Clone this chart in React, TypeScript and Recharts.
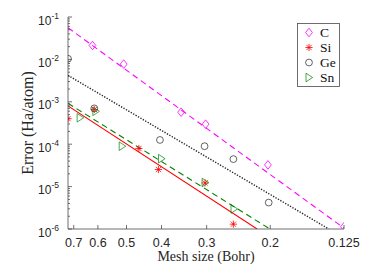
import React from 'react';
import { ComposedChart, Scatter, Line, XAxis, YAxis, Legend } from 'recharts';

// ---- axis ticks ----
const meshTicks = [0.7, 0.6, 0.5, 0.4, 0.3, 0.2, 0.125];
const meshTickLabels = ['0.7', '0.6', '0.5', '0.4', '0.3', '0.2', '0.125'];
const errorDecades = [1e-6, 1e-5, 1e-4, 1e-3, 1e-2, 1e-1];
const errorDecadeExponents = ['-6', '-5', '-4', '-3', '-2', '-1'];
const minorMultipliers = [2, 3, 4, 5, 6, 7, 8, 9];

// ---- measured points ----
const cMesh = [0.621, 0.509, 0.353, 0.302, 0.203, 0.125];
const cError = [0.0213, 0.00776, 5.7e-4, 2.97e-4, 3.25e-5, 1.13e-6];
const siMesh = [0.726, 0.614, 0.462, 0.408, 0.303, 0.253];
const siError = [4.0e-4, 6.6e-4, 7.9e-5, 2.53e-5, 1.22e-5, 1.3e-6];
const geMesh = [0.726, 0.614, 0.404, 0.304, 0.253, 0.202];
const geError = [0.01035, 7.0e-4, 1.26e-4, 8.97e-5, 4.45e-5, 4.2e-6];
const snMesh = [0.672, 0.608, 0.514, 0.4, 0.303, 0.252];
const snError = [4.2e-4, 5.96e-4, 8.97e-5, 4.55e-5, 1.25e-5, 2.97e-6];

// ---- fitted lines (end points) ----
const cFitMesh = [0.726, 0.125];
const cFitError = [0.0558, 1.05e-6];
const geFitMesh = [0.726, 0.1377];
const geFitError = [4.2e-3, 1e-6];
const snFitMesh = [0.726, 0.2005];
const snFitError = [9.2e-4, 1e-6];
const siFitMesh = [0.726, 0.2175];
const siFitError = [8.0e-4, 1e-6];

const seriesNames = ['C', 'Si', 'Ge', 'Sn'];

const toPts = (m: number[], e: number[]) => m.map((v, i) => ({ mesh: v, error: e[i] }));

const cPts = toPts(cMesh, cError);
const siPts = toPts(siMesh, siError);
const gePts = toPts(geMesh, geError);
const snPts = toPts(snMesh, snError);
const cFit = toPts(cFitMesh, cFitError);
const geFit = toPts(geFitMesh, geFitError);
const snFit = toPts(snFitMesh, snFitError);
const siFit = toPts(siFitMesh, siFitError);

const yTicks = [
  ...errorDecades,
  ...errorDecades.slice(0, -1).flatMap((d) => minorMultipliers.map((m) => m * d)),
];

const AXIS = '#4a4a4a';
const MAGENTA = '#ff00ff';
const RED = '#ff0000';
const BLACK = '#222222';
const GREEN = '#008000';
const SANS = '"Liberation Sans", Arial, sans-serif';
const SERIF = '"Liberation Serif", "Times New Roman", serif';

const isMajor = (v: number) => errorDecades.some((d) => Math.abs(v / d - 1) < 1e-6);

const Diamond = ({ cx, cy }: any) => (
  <polygon
    points={`${cx},${cy - 4.3} ${cx + 3.4},${cy} ${cx},${cy + 4.3} ${cx - 3.4},${cy}`}
    fill="none"
    stroke={MAGENTA}
    strokeWidth={0.8}
  />
);
const Star = ({ cx, cy }: any) => {
  const r = 3.6;
  const d = r * 0.72;
  return (
    <g stroke={RED} strokeWidth={0.8}>
      <line x1={cx - r} y1={cy} x2={cx + r} y2={cy} />
      <line x1={cx} y1={cy - r} x2={cx} y2={cy + r} />
      <line x1={cx - d} y1={cy - d} x2={cx + d} y2={cy + d} />
      <line x1={cx - d} y1={cy + d} x2={cx + d} y2={cy - d} />
    </g>
  );
};
const Circle = ({ cx, cy }: any) => (
  <circle cx={cx} cy={cy} r={3.4} fill="none" stroke={BLACK} strokeWidth={0.7} />
);
const TriRight = ({ cx, cy }: any) => (
  <polygon
    points={`${cx - 3},${cy - 4.3} ${cx + 3.6},${cy} ${cx - 3},${cy + 4.3}`}
    fill="none"
    stroke={GREEN}
    strokeWidth={0.7}
  />
);

const BottomTick = (props: any) => {
  const { x, y, payload } = props;
  const idx = meshTicks.findIndex((t) => Math.abs(t - payload.value) < 1e-9);
  return (
    <g>
      <line x1={x} y1={y} x2={x} y2={y - 4} stroke={AXIS} strokeWidth={0.8} />
      <text x={x} y={y + 18} textAnchor="middle" fontFamily={SANS} fontSize={12.5} fill="#262626">
        {meshTickLabels[idx]}
      </text>
    </g>
  );
};
const TopTick = (props: any) => {
  const { x, y } = props;
  return <line x1={x} y1={y} x2={x} y2={y + 4} stroke={AXIS} strokeWidth={0.8} />;
};
const LeftTick = (props: any) => {
  const { x, y, payload } = props;
  const major = isMajor(payload.value);
  const idx = errorDecades.findIndex((d) => Math.abs(payload.value / d - 1) < 1e-6);
  return (
    <g>
      <line x1={x} y1={y} x2={x + (major ? 4 : 2)} y2={y} stroke={AXIS} strokeWidth={0.8} />
      {major && (
        <text x={x - 9} y={y + 7.5} textAnchor="end" fontFamily={SANS} fontSize={12} fill="#262626">
          <tspan>10</tspan>
          <tspan dy={-6} fontSize={8.5}>{errorDecadeExponents[idx]}</tspan>
        </text>
      )}
    </g>
  );
};
const RightTick = (props: any) => {
  const { x, y, payload } = props;
  const major = isMajor(payload.value);
  return <line x1={x} y1={y} x2={x - (major ? 4 : 2)} y2={y} stroke={AXIS} strokeWidth={0.8} />;
};

const legendMarkers = [Diamond, Star, Circle, TriRight];

const LegendBox = () => (
  <svg width={43} height={64} style={{ display: 'block' }}>
    <rect x={0.5} y={0.5} width={42} height={63} fill="#fff" stroke={AXIS} strokeWidth={0.8} />
    {seriesNames.map((n, i) => {
      const M = legendMarkers[i];
      const cy = 9.5 + i * 15;
      return (
        <g key={n}>
          <M cx={12} cy={cy} />
          <text x={23} y={cy + 4.5} fontFamily={SERIF} fontSize={13.5} fill="#111">
            {n}
          </text>
        </g>
      );
    })}
  </svg>
);

export default function App() {
  return (
    <div style={{ position: 'absolute', left: 0, top: 0, width: 374, height: 280, background: '#fff' }}>
      <ComposedChart width={374} height={280} margin={{ top: 17, right: 30, bottom: 0, left: 0 }}>
        <XAxis
          xAxisId={0}
          dataKey="mesh"
          type="number"
          scale="log"
          domain={[0.125, 0.726]}
          allowDataOverflow
          reversed
          ticks={meshTicks}
          interval={0}
          height={51}
          tickSize={0}
          tickMargin={0}
          tickLine={false}
          axisLine={{ stroke: AXIS, strokeWidth: 0.8 }}
          tick={<BottomTick />}
          label={(p: any) => {
            const vb = p.viewBox;
            return (
              <text x={vb.x + vb.width / 2} y={vb.y + 32} textAnchor="middle" fontFamily={SERIF} fontSize={14} fill="#262626">
                Mesh size (Bohr)
              </text>
            );
          }}
        />
        <XAxis
          xAxisId="top"
          orientation="top"
          dataKey="mesh"
          type="number"
          scale="log"
          domain={[0.125, 0.726]}
          allowDataOverflow
          reversed
          ticks={meshTicks}
          interval={0}
          height={0}
          tickSize={0}
          tickMargin={0}
          tickLine={false}
          axisLine={{ stroke: AXIS, strokeWidth: 0.8 }}
          tick={<TopTick />}
        />
        <YAxis
          yAxisId={0}
          dataKey="error"
          type="number"
          scale="log"
          domain={[1e-6, 1e-1]}
          allowDataOverflow
          ticks={yTicks}
          interval={0}
          width={68}
          tickSize={0}
          tickMargin={0}
          tickLine={false}
          axisLine={{ stroke: AXIS, strokeWidth: 0.8 }}
          tick={<LeftTick />}
          label={(p: any) => {
            const vb = p.viewBox;
            const cx = 33;
            const cy = vb.y + vb.height / 2;
            return (
              <text x={cx} y={cy} transform={`rotate(-90 ${cx} ${cy})`} textAnchor="middle" fontFamily={SERIF} fontSize={16} fill="#262626">
                Error (Ha/atom)
              </text>
            );
          }}
        />
        <YAxis
          yAxisId="right"
          orientation="right"
          dataKey="error"
          type="number"
          scale="log"
          domain={[1e-6, 1e-1]}
          allowDataOverflow
          ticks={yTicks}
          interval={0}
          width={0}
          tickSize={0}
          tickMargin={0}
          tickLine={false}
          axisLine={{ stroke: AXIS, strokeWidth: 0.8 }}
          tick={<RightTick />}
        />
        <Line data={cFit} dataKey="error" stroke={MAGENTA} strokeWidth={1.1} strokeDasharray="6 4" dot={false} activeDot={false} isAnimationActive={false} legendType="none" />
        <Line data={geFit} dataKey="error" stroke={BLACK} strokeWidth={1.4} strokeDasharray="1.3 1.5" dot={false} activeDot={false} isAnimationActive={false} legendType="none" />
        <Line data={snFit} dataKey="error" stroke={GREEN} strokeWidth={1.1} strokeDasharray="6 4" dot={false} activeDot={false} isAnimationActive={false} legendType="none" />
        <Line data={siFit} dataKey="error" stroke={RED} strokeWidth={1.1} dot={false} activeDot={false} isAnimationActive={false} legendType="none" />
        <Scatter name="C" data={cPts} dataKey="error" shape={<Diamond />} isAnimationActive={false} />
        <Scatter name="Si" data={siPts} dataKey="error" shape={<Star />} isAnimationActive={false} />
        <Scatter name="Ge" data={gePts} dataKey="error" shape={<Circle />} isAnimationActive={false} />
        <Scatter name="Sn" data={snPts} dataKey="error" shape={<TriRight />} isAnimationActive={false} />
        <Legend
          layout="horizontal"
          verticalAlign="middle"
          align="center"
          wrapperStyle={{ position: 'absolute', left: 297, top: 23, width: 43, height: 64 }}
          content={() => <LegendBox />}
        />
      </ComposedChart>
    </div>
  );
}
